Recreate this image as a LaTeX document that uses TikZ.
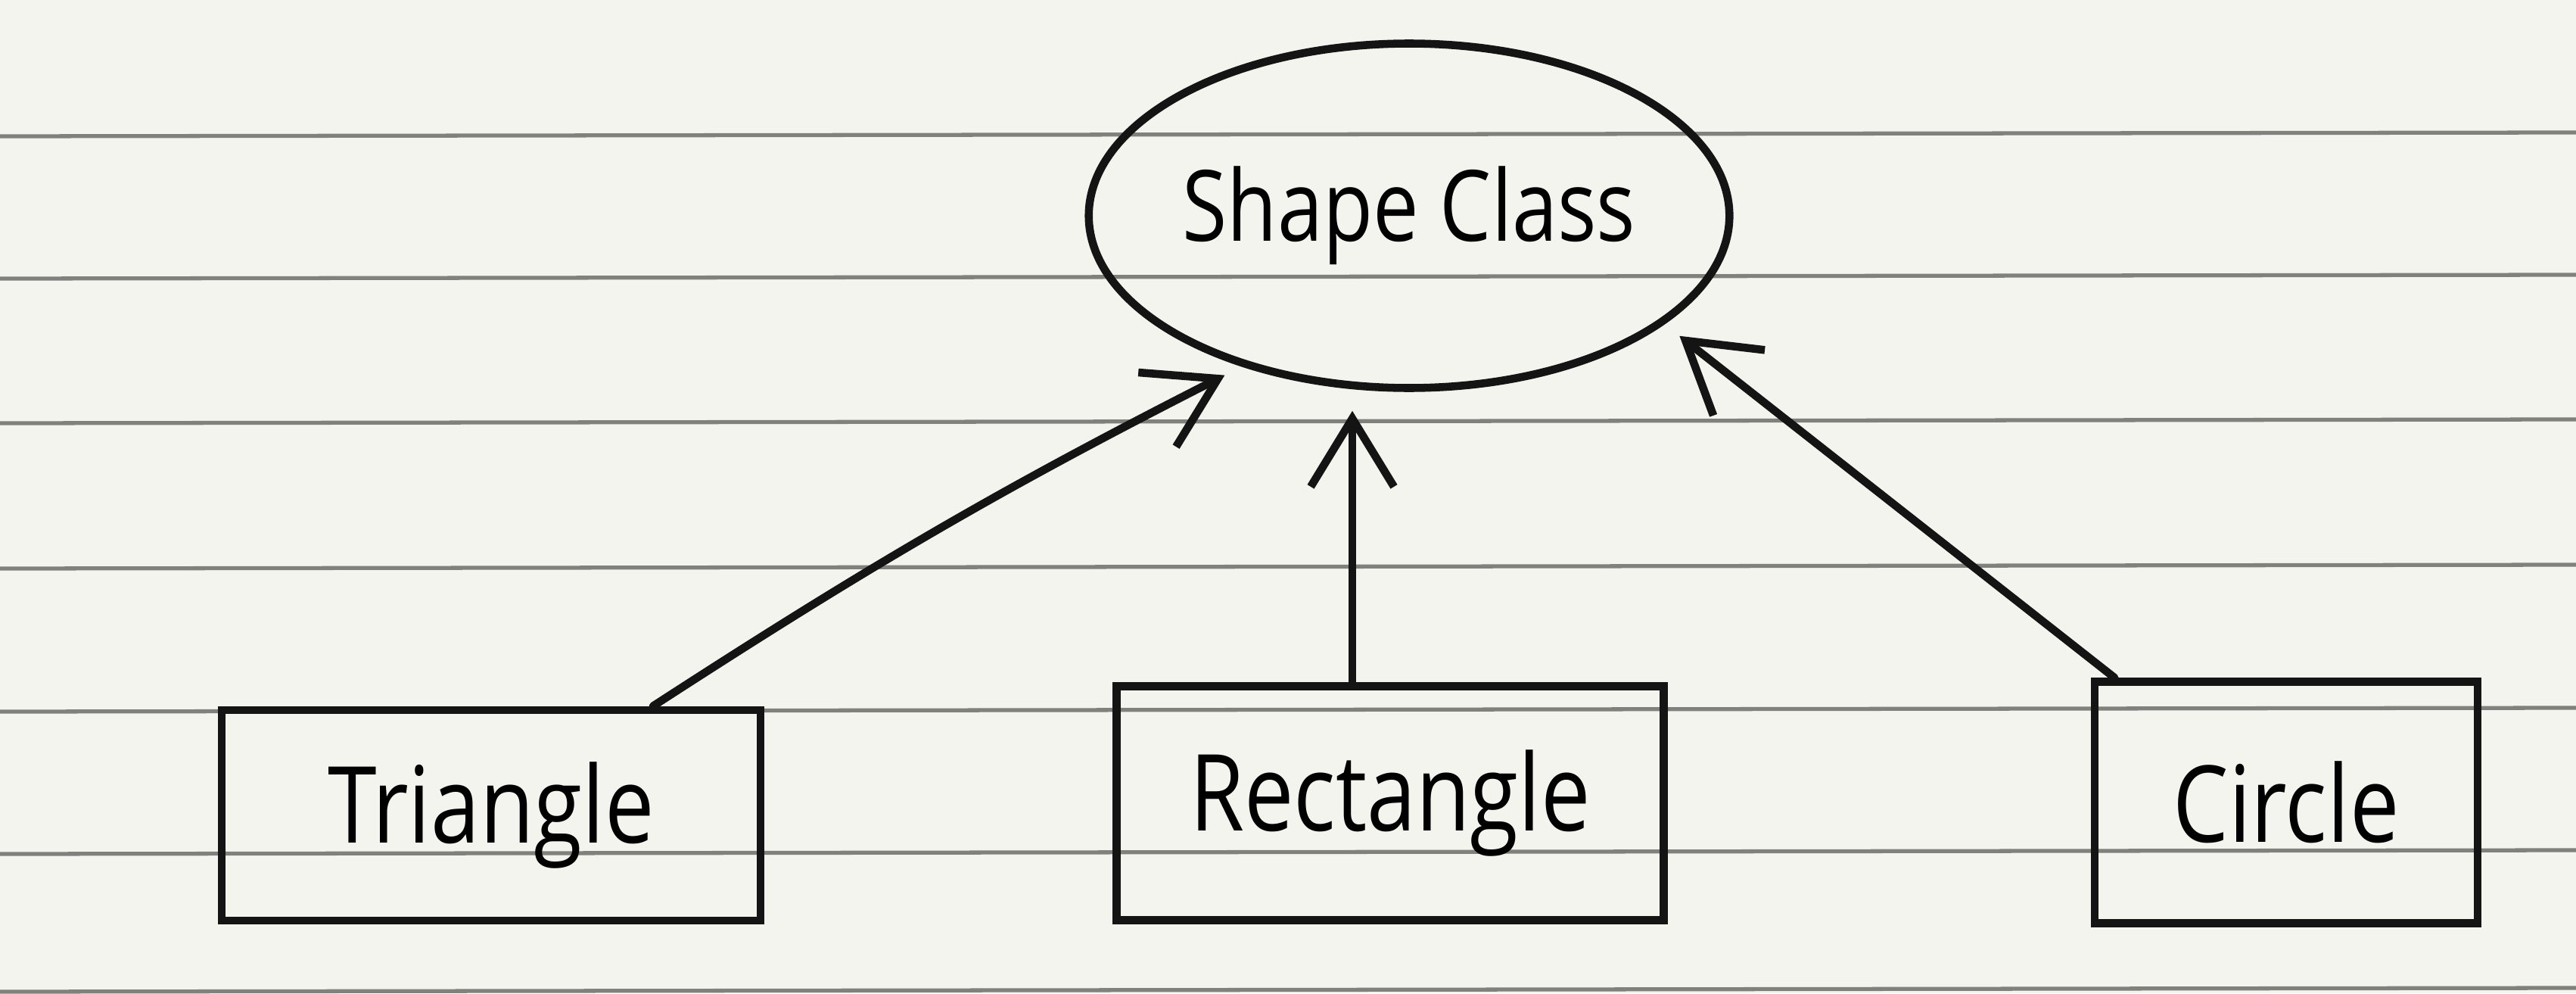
\documentclass[tikz,border=0pt]{standalone}
\usepackage{fontspec}
\setmainfont{Open Sans}[FakeStretch=0.83]
\usetikzlibrary{arrows.meta,shapes.geometric}
\definecolor{paper}{RGB}{243,244,238}
\definecolor{rule}{RGB}{128,128,124}
\definecolor{ink}{RGB}{20,20,20}

\begin{document}
\begin{tikzpicture}[font=\fontsize{40}{44}\selectfont,
  pen/.style={draw=ink,line width=3pt},
  box/.style={pen,rectangle,inner sep=0pt},
  ruling/.style={draw=rule,line width=1.5pt},
  arr/.style={pen,line cap=round,-{Straight Barb[length=9mm,width=11mm]}}]
\fill[paper] (0,0) rectangle (34.04,13.12);
\useasboundingbox (0,0) rectangle (34.04,13.12);

\draw[ruling] (0,11.32) -- (34.04,11.37);
\draw[ruling] (0,9.44) -- (34.04,9.49);
\draw[ruling] (0,7.53) -- (34.04,7.58);
\draw[ruling] (0,5.61) -- (34.04,5.66);
\draw[ruling] (0,3.72) -- (34.04,3.77);
\draw[ruling] (0,1.84) -- (34.04,1.89);
\draw[ruling] (0,0.02) -- (34.04,0.07);

\node[pen,ellipse,inner sep=0pt,font=\fontsize{37}{40}\selectfont,minimum width=8.25cm,minimum height=4.55cm] (0) at (18.62,10.27) {Shape Class};
\node[box,minimum width=7.12cm,minimum height=2.78cm] (1) at (6.49,2.35) {Triangle};
\node[box,minimum width=7.23cm,minimum height=3.09cm] (2) at (18.37,2.51) {Rectangle};
\node[box,minimum width=5.06cm,minimum height=3.19cm] (3) at (30.21,2.52) {Circle};

\path[arr,shorten >=2.5mm] (1.34) to[bend left=3] (0.222);
\path[arr,shorten >=2.5mm] ([xshift=-5mm]2.north) -- ([xshift=-5mm]2.north |- 0.south);
\path[arr,shorten >=2.5mm] (3.144) -- (0.337);
\end{tikzpicture}
\end{document}
